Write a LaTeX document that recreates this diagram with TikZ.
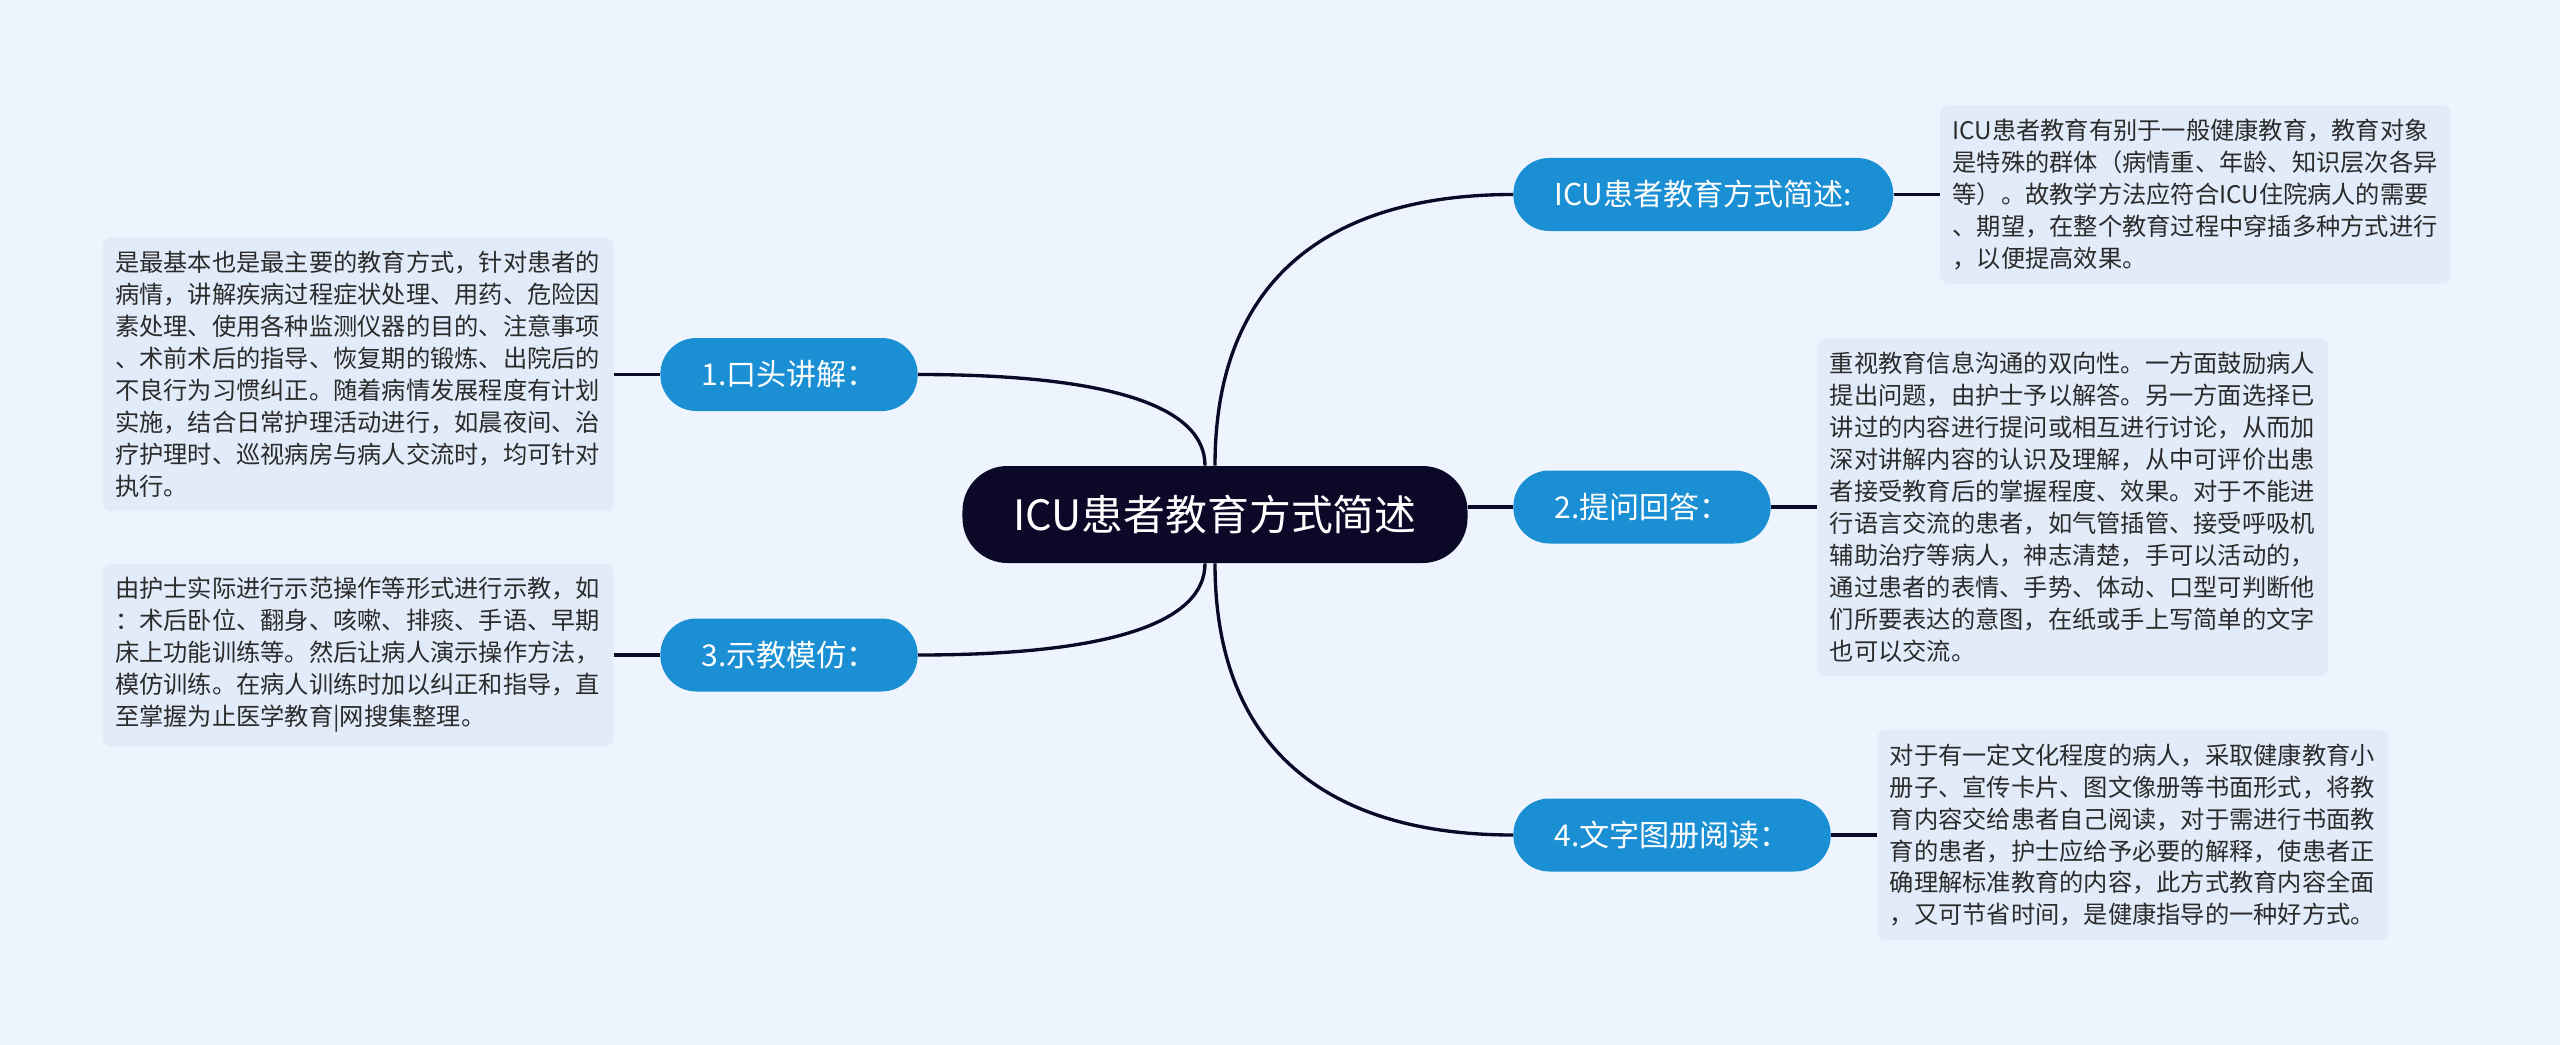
\documentclass[tikz,border=0pt]{standalone}
\usepackage{fontspec}
\setmainfont{Noto Sans CJK SC}
\usepackage{xcolor}
\usepackage{tikz}
\usetikzlibrary{positioning}
\definecolor{icubg}{HTML}{EEF4FD}
\definecolor{icunotefill}{HTML}{E2EBF9}
\definecolor{icublue}{HTML}{1A8FD3}
\definecolor{icunavy}{HTML}{0B0828}
\definecolor{icutext}{HTML}{2B2B2B}
\tikzset{
    icuroot/.style={fill=icunavy, text=white, rounded corners=0.9cm, minimum height=1.94cm, inner xsep=1.02cm, font=\fontsize{23.8pt}{28pt}\selectfont},
    icubranch/.style={fill=icublue, text=white, rounded corners=0.72cm, minimum height=1.46cm, inner xsep=0.82cm, font=\fontsize{17.1pt}{20pt}\selectfont},
    icunote/.style={fill=icunotefill, text=icutext, rounded corners=0.16cm, align=left, text width=9.72cm, inner xsep=0.25cm, inner ysep=0.27cm, font=\fontsize{13.8pt}{18.2pt}\selectfont},
    iculine/.style={draw=icunavy, line width=1.9pt}
}

\begin{document}
\begin{tikzpicture}[node distance=0.92cm]
    \fill[icubg] (0,0) rectangle (51.2,-20.9);
    \useasboundingbox (0,0) rectangle (51.2,-20.9);

    \node[icuroot] (root) at (24.3,-10.29) {ICU患者教育方式简述};

    \node[icubranch, anchor=west] (b0) at (30.26,-3.89) {ICU患者教育方式简述:};
    \node[icubranch, anchor=east] (b1) at (18.36,-7.49) {1.口头讲解：};
    \node[icubranch, anchor=west] (b2) at (30.26,-10.14) {2.提问回答：};
    \node[icubranch, anchor=east] (b3) at (18.36,-13.1) {3.示教模仿：};
    \node[icubranch, anchor=west] (b4) at (30.26,-16.7) {4.文字图册阅读：};

    \node[icunote, right=of b0] (n0) {ICU患者教育有别于一般健康教育，教育对象\\
        是特殊的群体（病情重、年龄、知识层次各异\\
        等）。故教学方法应符合ICU住院病人的需要\\
        、期望，在整个教育过程中穿插多种方式进行\\
        ，以便提高效果。};
    \node[icunote, left=of b1] (n1) {是最基本也是最主要的教育方式，针对患者的\\
        病情，讲解疾病过程症状处理、用药、危险因\\
        素处理、使用各种监测仪器的目的、注意事项\\
        、术前术后的指导、恢复期的锻炼、出院后的\\
        不良行为习惯纠正。随着病情发展程度有计划\\
        实施，结合日常护理活动进行，如晨夜间、治\\
        疗护理时、巡视病房与病人交流时，均可针对\\
        执行。};
    \node[icunote, right=of b2] (n2) {重视教育信息沟通的双向性。一方面鼓励病人\\
        提出问题，由护士予以解答。另一方面选择已\\
        讲过的内容进行提问或相互进行讨论，从而加\\
        深对讲解内容的认识及理解，从中可评价出患\\
        者接受教育后的掌握程度、效果。对于不能进\\
        行语言交流的患者，如气管插管、接受呼吸机\\
        辅助治疗等病人，神志清楚，手可以活动的，\\
        通过患者的表情、手势、体动、口型可判断他\\
        们所要表达的意图，在纸或手上写简单的文字\\
        也可以交流。};
    \node[icunote, left=of b3] (n3) {由护士实际进行示范操作等形式进行示教，如\\
        ：术后卧位、翻身、咳嗽、排痰、手语、早期\\
        床上功能训练等。然后让病人演示操作方法，\\
        模仿训练。在病人训练时加以纠正和指导，直\\
        至掌握为止医学教育|网搜集整理。};
    \node[icunote, right=of b4] (n4) {对于有一定文化程度的病人，采取健康教育小\\
        册子、宣传卡片、图文像册等书面形式，将教\\
        育内容交给患者自己阅读，对于需进行书面教\\
        育的患者，护士应给予必要的解释，使患者正\\
        确理解标准教育的内容，此方式教育内容全面\\
        ，又可节省时间，是健康指导的一种好方式。};

    \draw[iculine] (root.north) .. controls +(0,3.8) and +(-3.6,0) .. (b0.west);
    \draw[iculine] ([xshift=-2mm]root.north) .. controls +(0,1.2) and +(3.8,0) .. (b1.east);
    \draw[iculine] (root.east |- b2.west) -- (b2.west);
    \draw[iculine] ([xshift=-2mm]root.south) .. controls +(0,-1.2) and +(3.8,0) .. (b3.east);
    \draw[iculine] (root.south) .. controls +(0,-3.8) and +(-3.6,0) .. (b4.west);

    \draw[iculine] (b0.east) -- (n0.west);
    \draw[iculine] (n1.east) -- (b1.west);
    \draw[iculine] (b2.east) -- (n2.west);
    \draw[iculine] (n3.east) -- (b3.west);
    \draw[iculine] (b4.east) -- (n4.west);
\end{tikzpicture}
\end{document}
